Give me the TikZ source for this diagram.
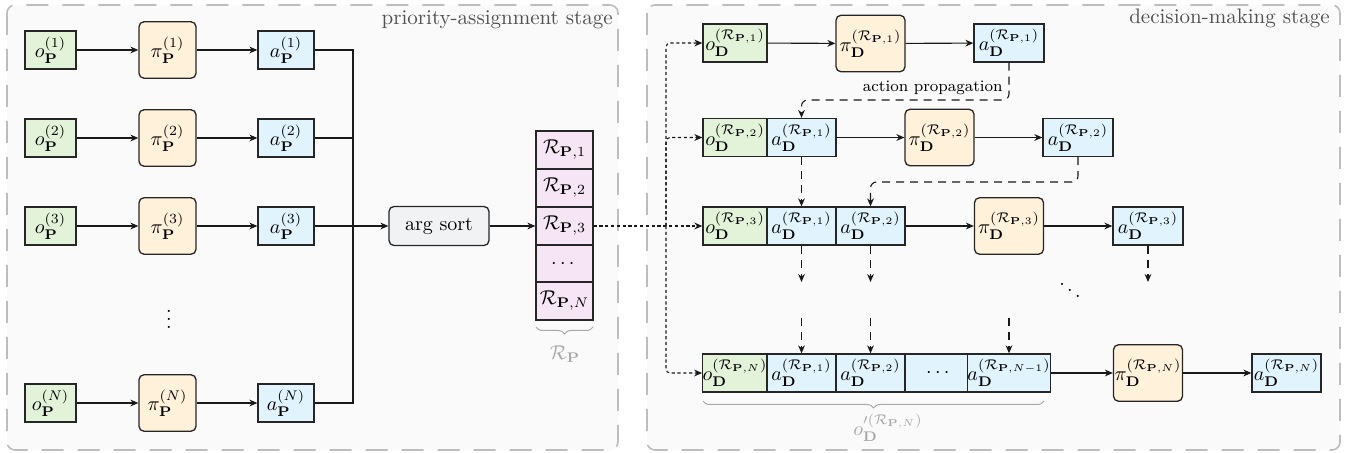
\documentclass[tikz,border=0pt]{standalone}
\usepackage{amsmath}
\usetikzlibrary{arrows.meta,decorations.pathreplacing,calc}
\definecolor{obsg}{HTML}{E2F3D9}
\definecolor{polo}{HTML}{FFF1DA}
\definecolor{actb}{HTML}{E1F4FD}
\definecolor{rankp}{HTML}{F6E5F5}
\definecolor{sortg}{HTML}{F1F2F4}
\definecolor{panelf}{HTML}{FAFAFA}
\definecolor{paneld}{HTML}{BDBDBD}
\definecolor{labg}{HTML}{505050}
\definecolor{braceg}{HTML}{A8A8A8}
\newcommand\RPk[1]{\mathcal{R}_{\mathbf{P},#1}}
\newcommand\OP[1]{$o_{\mathbf{P}}^{(#1)}$}
\newcommand\PiP[1]{$\pi_{\mathbf{P}}^{(#1)}$}
\newcommand\AP[1]{$a_{\mathbf{P}}^{(#1)}$}
\newcommand\OD[1]{$o_{\mathbf{D}}^{(\RPk{#1})}$}
\newcommand\PiD[1]{$\pi_{\mathbf{D}}^{(\RPk{#1})}$}
\newcommand\AD[1]{$a_{\mathbf{D}}^{(\RPk{#1})}$}
\begin{document}
\begin{tikzpicture}[x=0.5pt,y=-0.5pt,
  panel/.style={draw=paneld, fill=panelf, line width=0.8pt, rounded corners=4pt, dash pattern=on 11pt off 7pt},
  stagelab/.style={text=labg, font=\fontsize{10.5}{12}\selectfont, inner sep=0pt},
  box/.style={draw=black!85, line width=0.65pt, minimum height=19pt, inner sep=0pt},
  obsbox/.style={box, fill=obsg},
  actbox/.style={box, fill=actb},
  polbox/.style={box, fill=polo, rounded corners=2.5pt, minimum height=28.25pt},
  rankbox/.style={box, fill=rankp, minimum width=28.5pt},
  sortbox/.style={box, fill=sortg, rounded corners=2.5pt, minimum width=50pt, minimum height=19.5pt},
  flow/.style={-{Stealth[length=4pt,width=3.4pt]}, line width=0.55pt, black!90},
  plainline/.style={line width=0.55pt, black!90},
  dotflow/.style={-{Stealth[length=4pt,width=3.4pt]}, line width=0.55pt, black!90, dash pattern=on 1.6pt off 1.3pt},
  propflow/.style={-{Stealth[length=4pt,width=3.4pt]}, line width=0.55pt, black!90, dash pattern=on 4pt off 3pt},
  gbrace/.style={draw=braceg, line width=0.5pt, decorate, decoration={brace, amplitude=3.5pt, mirror}},
]
\useasboundingbox (0,0) rectangle (1347,453);
% panels
\draw[panel] (7,5) rectangle (618,450);
\draw[panel] (647,5) rectangle (1340,450);
\node[stagelab, anchor=base east] (stageP) at (613,25) {priority-assignment stage};
\node[stagelab, anchor=base east] (stageD) at (1330,24) {decision-making stage};

% ---------- priority-assignment stage ----------
\node[obsbox, minimum width=25.5pt] (oP1) at (50.5,50) {\OP{1}};
\node[polbox, minimum width=28.5pt] (piP1) at (167.5,50) {\PiP{1}};
\node[actbox, minimum width=28pt] (aP1) at (286,50) {\AP{1}};
\node[obsbox, minimum width=25.5pt] (oP2) at (50.5,138) {\OP{2}};
\node[polbox, minimum width=28.5pt] (piP2) at (167.5,138) {\PiP{2}};
\node[actbox, minimum width=28pt] (aP2) at (286,138) {\AP{2}};
\node[obsbox, minimum width=25.5pt] (oP3) at (50.5,226) {\OP{3}};
\node[polbox, minimum width=28.5pt] (piP3) at (167.5,226) {\PiP{3}};
\node[actbox, minimum width=28pt] (aP3) at (286,226) {\AP{3}};
\node[inner sep=0pt] (vd) at (169,313) {$\vdots$};
\node[obsbox, minimum width=25.5pt] (oPN) at (50.5,403) {\OP{N}};
\node[polbox, minimum width=28.5pt] (piPN) at (167.5,403) {\PiP{N}};
\node[actbox, minimum width=28pt] (aPN) at (286,403) {\AP{N}};

\foreach \r in {1,2,3,N}{
  \draw[flow] (oP\r) -- (piP\r);
  \draw[flow] (piP\r) -- (aP\r);
}
\node[sortbox] (sort) at (439,226) {arg sort};
\coordinate (merge) at (353,226);
\draw[plainline] (aP1.east) -| (merge);
\draw[plainline] (aP2.east) -| (merge);
\draw[plainline] (aPN.east) -| (merge);
\draw[flow] (aP3.east) -- (sort.west);

\node[rankbox] (R1) at (564.5,150) {$\RPk{1}$};
\node[rankbox] (R2) at (564.5,188) {$\RPk{2}$};
\node[rankbox] (R3) at (564.5,226) {$\RPk{3}$};
\node[rankbox] (R4) at (564.5,264) {$\cdots$};
\node[rankbox] (RN) at (564.5,301) {$\RPk{N}$};
\draw[flow] (sort.east) -- (R3.west);
\draw[gbrace] (536,327) -- (593,327);
\node[text=braceg, inner sep=0pt] (RPlab) at (565,354) {$\mathcal{R}_{\mathbf{P}}$};

% ---------- decision-making stage ----------
% row 1
\node[obsbox, minimum width=32pt] (oD1) at (735,43) {\OD{1}};
\node[polbox, minimum width=34.5pt] (piD1) at (870.5,43.5) {\PiD{1}};
\node[actbox, minimum width=35pt] (aD1) at (1009,43) {\AD{1}};
% row 2
\node[obsbox, minimum width=32pt] (oD2) at (735,137.5) {\OD{2}};
\node[actbox, minimum width=34.5pt] (bA21) at (801.5,137.5) {\AD{1}};
\node[polbox, minimum width=34.5pt] (piD2) at (939.5,137.5) {\PiD{2}};
\node[actbox, minimum width=35pt] (aD2) at (1078,137.5) {\AD{2}};
% row 3
\node[obsbox, minimum width=32pt] (oD3) at (735,226) {\OD{3}};
\node[actbox, minimum width=34.5pt] (bA31) at (801.5,226) {\AD{1}};
\node[actbox, minimum width=34.5pt] (bA32) at (870.5,226) {\AD{2}};
\node[polbox, minimum width=34.5pt] (piD3) at (1009,226) {\PiD{3}};
\node[actbox, minimum width=35pt] (aD3) at (1148,226) {\AD{3}};
% row N
\node[obsbox, minimum width=32pt] (oDN) at (735,373) {\OD{N}};
\node[actbox, minimum width=34.5pt] (bAN1) at (801.5,373) {\AD{1}};
\node[actbox, minimum width=34.5pt] (bAN2) at (870.5,373) {\AD{2}};
\node[actbox, minimum width=34.5pt] (bANd) at (939.5,373) {$\cdots$};
\node[actbox, minimum width=35pt] (bANm) at (1009,373) {$a_{\mathbf{D}}^{(\RPk{N-1})}$};
\node[polbox, minimum width=34.5pt] (piDN) at (1148,373) {\PiD{N}};
\node[actbox, minimum width=34.5pt] (aDN) at (1286.5,373) {\AD{N}};
\node[inner sep=0pt] (dd) at (1070,284) {$\ddots$};

% horizontal flows
\draw[flow] (oD1) -- (piD1);
\draw[flow] (piD1) -- (aD1);
\draw[flow] (bA21) -- (piD2);
\draw[flow] (piD2) -- (aD2);
\draw[flow] (bA32) -- (piD3);
\draw[flow] (piD3) -- (aD3);
\draw[flow] (bANm) -- (piDN);
\draw[flow] (piDN) -- (aDN);

% dotted distribution of ranks
\coordinate (split) at (666,226);
\draw[dotflow] (R3.east) -- (oD3.west);
\draw[dotflow, rounded corners=2pt] (split) |- (oD1.west);
\draw[dotflow, rounded corners=2pt] (split) |- (oD2.west);
\draw[dotflow, rounded corners=2pt] (split) |- (oDN.west);

% action propagation
\coordinate (ap1) at (1009,100);
\draw[propflow, rounded corners=3pt] (aD1.south) -- (ap1) -| (bA21.north);
\node[font=\footnotesize, anchor=south east, inner sep=1pt] (aplab) at (1005,97) {action propagation};
\draw[propflow] (bA21.south) -- (bA31.north);
\coordinate (ap2) at (1078,182);
\draw[propflow, rounded corners=3pt] (aD2.south) -- (ap2) -| (bA32.north);
\coordinate (e31) at (801.5,282);
\coordinate (e32) at (870.5,282);
\coordinate (e33) at (1148,282);
\draw[propflow] (bA31.south) -- (e31);
\draw[propflow] (bA32.south) -- (e32);
\draw[propflow] (aD3.south) -- (e33);
\coordinate (sN1) at (801.5,318);
\coordinate (sN2) at (870.5,318);
\coordinate (sNm) at (1009,318);
\draw[propflow] (sN1) -- (bAN1.north);
\draw[propflow] (sN2) -- (bAN2.north);
\draw[propflow] (sNm) -- (bANm.north);

% brace for o'
\draw[gbrace] (703,401) -- (1044,401);
\node[text=braceg, inner sep=0pt] (oplab) at (888,428) {$o_{\mathbf{D}}^{\prime(\RPk{N})}$};
\end{tikzpicture}
\end{document}
